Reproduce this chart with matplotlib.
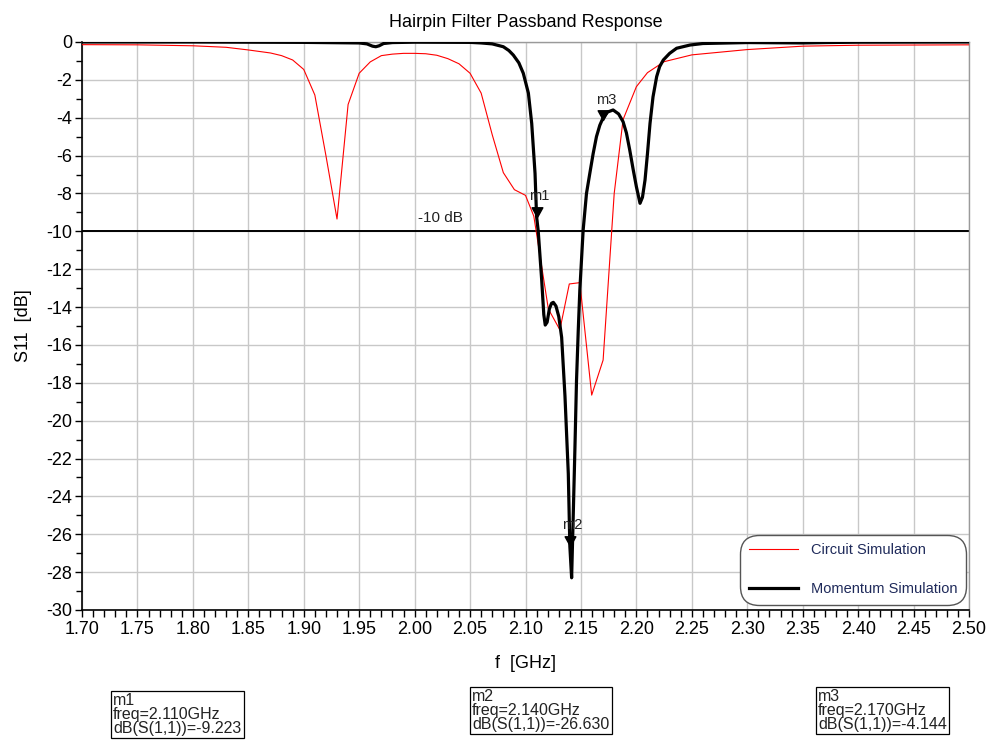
import matplotlib
matplotlib.use("Agg")
import matplotlib.pyplot as plt
from matplotlib.path import Path
from matplotlib.ticker import MultipleLocator, FormatStrFormatter
from matplotlib import font_manager

# ---------------- data ----------------
freq_circuit = [1.70, 1.75, 1.80, 1.83, 1.85, 1.87, 1.88, 1.89, 1.90, 1.91, 1.92, 1.93,
                1.94, 1.95, 1.96, 1.97, 1.98, 1.99, 2.00, 2.01, 2.02, 2.03, 2.04, 2.05,
                2.06, 2.07, 2.08, 2.09, 2.10, 2.1075, 2.1206, 2.131, 2.1395, 2.149,
                2.1597, 2.170, 2.180, 2.188, 2.200, 2.210, 2.225, 2.25, 2.30, 2.35,
                2.40, 2.50]
s11_circuit = [-0.14, -0.15, -0.20, -0.28, -0.42, -0.58, -0.72, -0.95, -1.45, -2.8, -6.0, -9.35,
               -3.3, -1.65, -1.05, -0.72, -0.64, -0.60, -0.60, -0.62, -0.70, -0.88, -1.15, -1.65,
               -2.7, -4.9, -6.9, -7.8, -8.1, -9.2, -14.1, -15.2, -12.78, -12.71,
               -18.65, -16.8, -8.0, -4.1, -2.36, -1.62, -1.04, -0.68, -0.40, -0.22,
               -0.17, -0.15]

freq_momentum = [1.70, 1.80, 1.90, 1.95, 1.957, 1.962, 1.965, 1.968, 1.972, 1.98, 2.00, 2.05,
                 2.06, 2.07, 2.08, 2.085, 2.089, 2.094, 2.098, 2.1026, 2.1056, 2.1086, 2.110,
                 2.1115, 2.1146, 2.1165, 2.1178, 2.1195, 2.1215, 2.1235, 2.1251, 2.1275, 2.130,
                 2.1326, 2.1356, 2.1386, 2.140, 2.1416, 2.1431, 2.1446, 2.146, 2.1476, 2.149,
                 2.152, 2.155, 2.158, 2.161, 2.164, 2.167, 2.170, 2.174, 2.179, 2.184, 2.188,
                 2.191, 2.194, 2.197, 2.200, 2.2033, 2.2055, 2.2078, 2.210, 2.2123, 2.215,
                 2.2183, 2.221, 2.2243, 2.230, 2.2363, 2.2484, 2.26, 2.30, 2.35, 2.37, 2.40, 2.50]
s11_momentum = [0.0, 0.0, -0.02, -0.05, -0.10, -0.22, -0.25, -0.20, -0.08, -0.03, -0.01, -0.02,
                -0.05, -0.10, -0.25, -0.45, -0.69, -1.1, -1.65, -2.7, -4.3, -6.94, -9.22,
                -10.0, -12.57, -14.4, -14.95, -14.8, -14.1, -13.8, -13.75, -13.95, -14.5,
                -15.6, -18.7, -22.8, -26.63, -28.3, -24.9, -21.4, -17.9, -15.2, -13.1,
                -9.93, -8.0, -6.94, -5.9, -5.0, -4.4, -4.0, -3.7, -3.59, -3.8, -4.21,
                -4.8, -5.7, -6.7, -7.64, -8.52, -8.2, -7.29, -5.9, -4.3, -2.9,
                -1.83, -1.3, -0.95, -0.6, -0.33, -0.16, -0.08, -0.03, -0.05, -0.03, -0.01, 0.0]

series_labels = ["Circuit Simulation", "Momentum Simulation"]
marker_names = ["m1", "m2", "m3"]
marker_freqs = [2.110, 2.140, 2.170]
marker_values = [-9.223, -26.630, -4.144]
threshold_db = -10
threshold_label = "-10 dB"

# ---------------- fonts ----------------
available = {f.name for f in font_manager.fontManager.ttflist}
base_font = "Liberation Sans" if "Liberation Sans" in available else "DejaVu Sans"
narrow_font = "Liberation Sans Narrow" if "Liberation Sans Narrow" in available else base_font
plt.rcParams["font.family"] = [base_font, "DejaVu Sans"]

W, H = 989, 743
fig = plt.figure(figsize=(W / 100, H / 100), dpi=100)
ax = fig.add_axes([82 / W, 1 - 610 / H, 887 / W, 568 / H])

ax.plot(freq_circuit, s11_circuit, color="#ff0000", lw=0.8, label=series_labels[0], zorder=3)
ax.plot(freq_momentum, s11_momentum, color="black", lw=2.3, label=series_labels[1], zorder=4)

ax.axhline(threshold_db, color="black", lw=1.4, zorder=2)
ax.text(2.003, threshold_db + 0.35, threshold_label, fontsize=11, va="bottom", ha="left", color="#222222")

# markers: triangle with tip at the data point
tri = Path([(-0.55, 1.0), (0.55, 1.0), (0.0, 0.0), (-0.55, 1.0)],
           [Path.MOVETO, Path.LINETO, Path.LINETO, Path.CLOSEPOLY])
for name, fx, val in zip(marker_names, marker_freqs, marker_values):
    ax.plot([fx], [val], marker=tri, markersize=14, color="black", ls="none", zorder=5)
    ax.annotate(name, (fx, val), xytext=(2, 10), textcoords="offset points",
                ha="center", va="bottom", fontsize=10.5, color="#222222", zorder=6)

ax.set_xlim(1.70, 2.50)
ax.set_ylim(-30, 0)
ax.xaxis.set_major_locator(MultipleLocator(0.05))
ax.xaxis.set_minor_locator(MultipleLocator(0.01))
ax.xaxis.set_major_formatter(FormatStrFormatter("%.2f"))
ax.yaxis.set_major_locator(MultipleLocator(2))
ax.yaxis.set_minor_locator(MultipleLocator(1))
ax.yaxis.set_major_formatter(FormatStrFormatter("%d"))
ax.tick_params(axis="both", which="both", direction="out", color="black", width=1)
ax.tick_params(axis="x", which="major", length=5, labelsize=13, pad=3)
ax.tick_params(axis="x", which="minor", length=5)
ax.tick_params(axis="y", which="major", length=5, labelsize=13, pad=2)
ax.tick_params(axis="y", which="minor", length=4)

ax.grid(True, which="major", color="#c8c8c8", lw=1, zorder=0)
ax.set_axisbelow(True)
for s in ["left", "bottom"]:
    ax.spines[s].set_color("black")
    ax.spines[s].set_linewidth(1.2)
for s in ["top", "right"]:
    ax.spines[s].set_color("#9a9a9a")
    ax.spines[s].set_linewidth(1.0)

ax.set_title("Hairpin Filter Passband Response", fontsize=13, pad=11)
ax.set_xlabel("f  [GHz]", fontsize=13, labelpad=12)
ax.set_ylabel("S11  [dB]", fontsize=13, labelpad=10)

leg = ax.legend(loc="lower right", bbox_to_anchor=(0.9966, 0.009), borderaxespad=0,
                fontsize=10.5, labelspacing=1.7, handlelength=3.4, handletextpad=0.85,
                borderpad=0.6, fancybox=True, framealpha=1, edgecolor="#555555")
leg.get_frame().set_boxstyle("round,pad=0,rounding_size=1.3")
leg.get_frame().set_linewidth(1.0)
for t in leg.get_texts():
    t.set_color("#1f2a5a")

# marker readout boxes
box_specs = [(113 / W, 1 - 693 / H), (472 / W, 1 - 689 / H), (818 / W, 1 - 689 / H)]
for (bx, by), name, fx, val in zip(box_specs, marker_names, marker_freqs, marker_values):
    txt = f"{name}\nfreq={fx:.3f}GHz\ndB(S(1,1))={val:.3f}"
    fig.text(bx, by, txt, ha="left", va="top", fontsize=11.5 if narrow_font == base_font else 13,
             family=[narrow_font, "DejaVu Sans"], linespacing=0.92, color="#222222",
             bbox=dict(boxstyle="square,pad=0.15", facecolor="white", edgecolor="black", lw=0.9))

fig.savefig("out.png", dpi=100)
